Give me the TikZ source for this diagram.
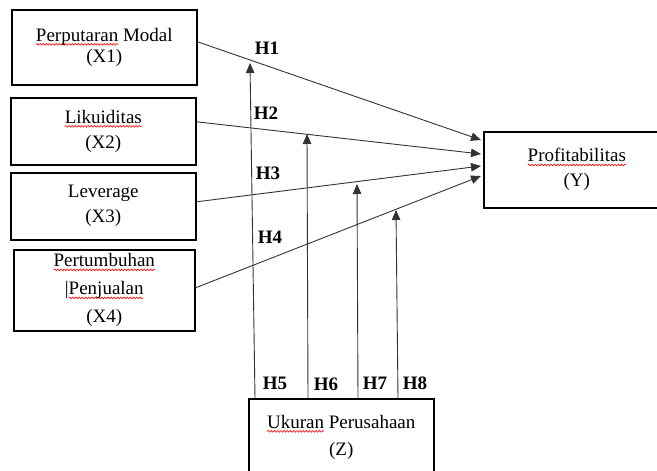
\documentclass[tikz,border=0pt]{standalone}
\usepackage{fontspec}
\setmainfont{Liberation Serif}
\usepackage{tikz}
\usetikzlibrary{arrows.meta, calc, decorations.pathmorphing}

%% red spell-check wave under a word
\newlength{\sqlen}
\newcommand{\sq}[1]{\settowidth{\sqlen}{#1}%
  \rlap{\tikz[overlay]\draw[red, line width=0.6pt, decorate,
        decoration={snake, amplitude=0.9pt, segment length=3.2pt}]
        (0pt,-3pt) -- (\sqlen,-3pt);}#1}

\begin{document}
\begin{tikzpicture}[
  x=1pt, y=-1pt,
  box/.style={draw, line width=1.6pt, align=center, inner sep=0pt,
              font=\fontsize{19}{25}\selectfont},
  hyp/.style={font=\fontsize{19}{22}\selectfont\bfseries},
  link/.style={draw=black!80, line width=0.9pt,
               -{Triangle[length=10pt,width=8.5pt]}},
]
\useasboundingbox (0,0) rectangle (657,471);

%% Independent variables
\node[box, minimum width=185pt, minimum height=75pt, anchor=north west,
      font=\fontsize{19}{21}\selectfont]
  (x1) at (11,9) {\sq{Perputaran} Modal\\(X1)};
\node[box, minimum width=185pt, minimum height=67pt, anchor=north west]
  (x2) at (10,97) {\sq{Likuiditas}\\(X2)};
\node[box, minimum width=185pt, minimum height=67pt, anchor=north west]
  (x3) at (10,172) {Leverage\\(X3)};
\node[box, minimum width=181pt, minimum height=81pt, anchor=north west,
      font=\fontsize{19}{28}\selectfont]
  (x4) at (13,249) {\sq{Pertumbuhan}\\|\sq{Penjualan}\\(X4)};

%% Dependent and moderating variables
\node[box, minimum width=186pt, minimum height=76pt, anchor=north west]
  (y) at (483,131) {\sq{Profitabilitas}\\(Y)};
\node[box, minimum width=185pt, minimum height=77pt, anchor=north west,
      font=\fontsize{19}{27}\selectfont]
  (z) at (248,398) {\sq{Ukuran} Perusahaan\\(Z)};

%% Arrow ends
\coordinate (t1) at (481,140);
\coordinate (t2) at (481,154);
\coordinate (t3) at (481,166);
\coordinate (t4) at (481,176);
\coordinate (m5) at (250,63);
\coordinate (m6) at (307,134);
\coordinate (m7) at (357,184);
\coordinate (m8) at (396,210);

%% Direct effects
\draw[link] ([yshift=5.5pt]x1.east) -- (t1);
\draw[link] ([yshift=9.5pt]x2.east) -- (t2);
\draw[link] ([yshift=4.5pt]x3.east) -- (t3);
\draw[link] ([yshift=2.5pt]x4.east) -- (t4);

%% Moderation
\draw[link] ([xshift=7pt]z.north west) -- (m5);
\draw[link] ([xshift=60pt]z.north west) -- (m6);
\draw[link] ([xshift=110pt]z.north west) -- (m7);
\draw[link] ([xshift=150pt]z.north west) -- (m8);

%% Hypotheses
\node[hyp] (h1) at (267,48) {H1};
\node[hyp] (h2) at (266,113) {H2};
\node[hyp] (h3) at (268,173) {H3};
\node[hyp] (h4) at (270,237) {H4};
\node[hyp] (h5) at (275,383) {H5};
\node[hyp] (h6) at (326,384) {H6};
\node[hyp] (h7) at (375,383) {H7};
\node[hyp] (h8) at (415,383) {H8};

\end{tikzpicture}
\end{document}
